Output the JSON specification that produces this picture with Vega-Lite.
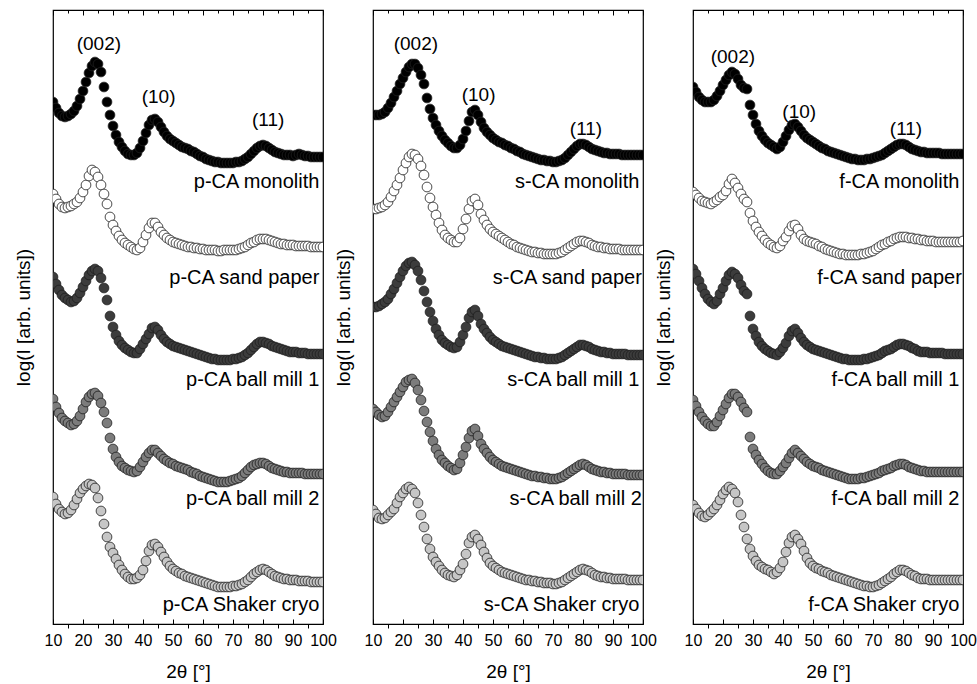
{
"$schema":"https://vega.github.io/schema/vega-lite/v6.json",
"padding":{"left":13,"top":8,"right":5,"bottom":2},
"bounds":"flush",
"spacing":50,
"config":{"font":"Liberation Sans","view":{"stroke":"#000","strokeWidth":1.2},"axis":{"labelColor":"#000","titleColor":"#000","tickColor":"#000","titleFontWeight":"normal","grid":false,"domain":false}},
"datasets":{
"p":[
{"c":1,"x":10,"y":522},{"c":1,"x":11,"y":516},{"c":1,"x":12,"y":511},{"c":1,"x":13,"y":508},{"c":1,"x":14,"y":507},{"c":1,"x":15,"y":508},{"c":1,"x":16,"y":510},{"c":1,"x":17,"y":513},{"c":1,"x":18,"y":518},{"c":1,"x":19,"y":525},
{"c":1,"x":20,"y":533},{"c":1,"x":21,"y":542},{"c":1,"x":22,"y":551},{"c":1,"x":23,"y":558},{"c":1,"x":24,"y":562},{"c":1,"x":25,"y":560},{"c":1,"x":26,"y":552},{"c":1,"x":27,"y":537},{"c":1,"x":28,"y":522},{"c":1,"x":29,"y":509},
{"c":1,"x":30,"y":498},{"c":1,"x":31,"y":489},{"c":1,"x":32,"y":482},{"c":1,"x":33,"y":477},{"c":1,"x":34,"y":473},{"c":1,"x":35,"y":470},{"c":1,"x":36,"y":469},{"c":1,"x":37,"y":469},{"c":1,"x":38,"y":471},{"c":1,"x":39,"y":476},
{"c":1,"x":40,"y":483},{"c":1,"x":41,"y":491},{"c":1,"x":42,"y":499},{"c":1,"x":43,"y":504},{"c":1,"x":44,"y":505},{"c":1,"x":45,"y":502},{"c":1,"x":46,"y":497},{"c":1,"x":47,"y":492},{"c":1,"x":48,"y":488},{"c":1,"x":49,"y":485},
{"c":1,"x":50,"y":483},{"c":1,"x":51,"y":481},{"c":1,"x":52,"y":479},{"c":1,"x":53,"y":477},{"c":1,"x":54,"y":476},{"c":1,"x":55,"y":475},{"c":1,"x":56,"y":473},{"c":1,"x":57,"y":472},{"c":1,"x":58,"y":470},{"c":1,"x":59,"y":468},
{"c":1,"x":60,"y":467},{"c":1,"x":61,"y":465},{"c":1,"x":62,"y":464},{"c":1,"x":63,"y":463},{"c":1,"x":64,"y":462},{"c":1,"x":65,"y":462},{"c":1,"x":66,"y":461},{"c":1,"x":67,"y":461},{"c":1,"x":68,"y":461},{"c":1,"x":69,"y":461},
{"c":1,"x":70,"y":461},{"c":1,"x":71,"y":462},{"c":1,"x":72,"y":462},{"c":1,"x":73,"y":463},{"c":1,"x":74,"y":465},{"c":1,"x":75,"y":467},{"c":1,"x":76,"y":470},{"c":1,"x":77,"y":473},{"c":1,"x":78,"y":476},{"c":1,"x":79,"y":478},
{"c":1,"x":80,"y":479},{"c":1,"x":81,"y":478},{"c":1,"x":82,"y":476},{"c":1,"x":83,"y":474},{"c":1,"x":84,"y":472},{"c":1,"x":85,"y":471},{"c":1,"x":86,"y":470},{"c":1,"x":87,"y":469},{"c":1,"x":88,"y":469},{"c":1,"x":89,"y":469},
{"c":1,"x":90,"y":468},{"c":1,"x":91,"y":469},{"c":1,"x":92,"y":470},{"c":1,"x":93,"y":469},{"c":1,"x":94,"y":468},{"c":1,"x":95,"y":468},{"c":1,"x":96,"y":467},{"c":1,"x":97,"y":467},{"c":1,"x":98,"y":467},{"c":1,"x":99,"y":467},{"c":1,"x":100,"y":467},
{"c":2,"x":10,"y":430},{"c":2,"x":11,"y":425},{"c":2,"x":12,"y":420},{"c":2,"x":13,"y":417},{"c":2,"x":14,"y":416},{"c":2,"x":15,"y":417},{"c":2,"x":16,"y":418},{"c":2,"x":17,"y":420},{"c":2,"x":18,"y":422},{"c":2,"x":19,"y":426},
{"c":2,"x":20,"y":432},{"c":2,"x":21,"y":439},{"c":2,"x":22,"y":448},{"c":2,"x":23,"y":454},{"c":2,"x":24,"y":452},{"c":2,"x":25,"y":447},{"c":2,"x":26,"y":439},{"c":2,"x":27,"y":430},{"c":2,"x":28,"y":420},{"c":2,"x":29,"y":407},
{"c":2,"x":30,"y":399},{"c":2,"x":31,"y":393},{"c":2,"x":32,"y":388},{"c":2,"x":33,"y":384},{"c":2,"x":34,"y":381},{"c":2,"x":35,"y":379},{"c":2,"x":36,"y":377},{"c":2,"x":37,"y":375},{"c":2,"x":38,"y":374},{"c":2,"x":39,"y":376},
{"c":2,"x":40,"y":382},{"c":2,"x":41,"y":389},{"c":2,"x":42,"y":396},{"c":2,"x":43,"y":401},{"c":2,"x":44,"y":401},{"c":2,"x":45,"y":397},{"c":2,"x":46,"y":392},{"c":2,"x":47,"y":389},{"c":2,"x":48,"y":386},{"c":2,"x":49,"y":384},
{"c":2,"x":50,"y":382},{"c":2,"x":51,"y":381},{"c":2,"x":52,"y":380},{"c":2,"x":53,"y":379},{"c":2,"x":54,"y":378},{"c":2,"x":55,"y":377},{"c":2,"x":56,"y":377},{"c":2,"x":57,"y":376},{"c":2,"x":58,"y":376},{"c":2,"x":59,"y":375},
{"c":2,"x":60,"y":375},{"c":2,"x":61,"y":374},{"c":2,"x":62,"y":374},{"c":2,"x":63,"y":374},{"c":2,"x":64,"y":374},{"c":2,"x":65,"y":373},{"c":2,"x":66,"y":373},{"c":2,"x":67,"y":374},{"c":2,"x":68,"y":374},{"c":2,"x":69,"y":374},
{"c":2,"x":70,"y":374},{"c":2,"x":71,"y":374},{"c":2,"x":72,"y":375},{"c":2,"x":73,"y":376},{"c":2,"x":74,"y":377},{"c":2,"x":75,"y":379},{"c":2,"x":76,"y":381},{"c":2,"x":77,"y":382},{"c":2,"x":78,"y":384},{"c":2,"x":79,"y":385},
{"c":2,"x":80,"y":385},{"c":2,"x":81,"y":385},{"c":2,"x":82,"y":384},{"c":2,"x":83,"y":383},{"c":2,"x":84,"y":382},{"c":2,"x":85,"y":381},{"c":2,"x":86,"y":380},{"c":2,"x":87,"y":380},{"c":2,"x":88,"y":379},{"c":2,"x":89,"y":379},
{"c":2,"x":90,"y":379},{"c":2,"x":91,"y":378},{"c":2,"x":92,"y":378},{"c":2,"x":93,"y":378},{"c":2,"x":94,"y":378},{"c":2,"x":95,"y":378},{"c":2,"x":96,"y":377},{"c":2,"x":97,"y":377},{"c":2,"x":98,"y":377},{"c":2,"x":99,"y":377},{"c":2,"x":100,"y":377},
{"c":3,"x":10,"y":347},{"c":3,"x":11,"y":340},{"c":3,"x":12,"y":334},{"c":3,"x":13,"y":329},{"c":3,"x":14,"y":326},{"c":3,"x":15,"y":324},{"c":3,"x":16,"y":322},{"c":3,"x":17,"y":323},{"c":3,"x":18,"y":326},{"c":3,"x":19,"y":331},
{"c":3,"x":20,"y":337},{"c":3,"x":21,"y":343},{"c":3,"x":22,"y":349},{"c":3,"x":23,"y":353},{"c":3,"x":24,"y":355},{"c":3,"x":25,"y":353},{"c":3,"x":26,"y":346},{"c":3,"x":27,"y":336},{"c":3,"x":28,"y":324},{"c":3,"x":29,"y":308},
{"c":3,"x":30,"y":297},{"c":3,"x":31,"y":289},{"c":3,"x":32,"y":283},{"c":3,"x":33,"y":279},{"c":3,"x":34,"y":276},{"c":3,"x":35,"y":274},{"c":3,"x":36,"y":272},{"c":3,"x":37,"y":271},{"c":3,"x":38,"y":271},{"c":3,"x":39,"y":275},
{"c":3,"x":40,"y":280},{"c":3,"x":41,"y":285},{"c":3,"x":42,"y":290},{"c":3,"x":43,"y":296},{"c":3,"x":44,"y":297},{"c":3,"x":45,"y":294},{"c":3,"x":46,"y":289},{"c":3,"x":47,"y":285},{"c":3,"x":48,"y":282},{"c":3,"x":49,"y":280},
{"c":3,"x":50,"y":278},{"c":3,"x":51,"y":277},{"c":3,"x":52,"y":276},{"c":3,"x":53,"y":275},{"c":3,"x":54,"y":274},{"c":3,"x":55,"y":273},{"c":3,"x":56,"y":272},{"c":3,"x":57,"y":271},{"c":3,"x":58,"y":270},{"c":3,"x":59,"y":269},
{"c":3,"x":60,"y":268},{"c":3,"x":61,"y":267},{"c":3,"x":62,"y":266},{"c":3,"x":63,"y":265},{"c":3,"x":64,"y":265},{"c":3,"x":65,"y":264},{"c":3,"x":66,"y":264},{"c":3,"x":67,"y":264},{"c":3,"x":68,"y":264},{"c":3,"x":69,"y":264},
{"c":3,"x":70,"y":265},{"c":3,"x":71,"y":265},{"c":3,"x":72,"y":266},{"c":3,"x":73,"y":267},{"c":3,"x":74,"y":269},{"c":3,"x":75,"y":271},{"c":3,"x":76,"y":274},{"c":3,"x":77,"y":277},{"c":3,"x":78,"y":280},{"c":3,"x":79,"y":282},
{"c":3,"x":80,"y":282},{"c":3,"x":81,"y":281},{"c":3,"x":82,"y":280},{"c":3,"x":83,"y":278},{"c":3,"x":84,"y":277},{"c":3,"x":85,"y":276},{"c":3,"x":86,"y":275},{"c":3,"x":87,"y":274},{"c":3,"x":88,"y":273},{"c":3,"x":89,"y":272},
{"c":3,"x":90,"y":272},{"c":3,"x":91,"y":272},{"c":3,"x":92,"y":271},{"c":3,"x":93,"y":271},{"c":3,"x":94,"y":271},{"c":3,"x":95,"y":270},{"c":3,"x":96,"y":270},{"c":3,"x":97,"y":270},{"c":3,"x":98,"y":270},{"c":3,"x":99,"y":270},{"c":3,"x":100,"y":270},
{"c":4,"x":10,"y":225},{"c":4,"x":11,"y":217},{"c":4,"x":12,"y":211},{"c":4,"x":13,"y":206},{"c":4,"x":14,"y":203},{"c":4,"x":15,"y":201},{"c":4,"x":16,"y":199},{"c":4,"x":17,"y":200},{"c":4,"x":18,"y":203},{"c":4,"x":19,"y":208},
{"c":4,"x":20,"y":215},{"c":4,"x":21,"y":222},{"c":4,"x":22,"y":227},{"c":4,"x":23,"y":230},{"c":4,"x":24,"y":231},{"c":4,"x":25,"y":228},{"c":4,"x":26,"y":221},{"c":4,"x":27,"y":212},{"c":4,"x":28,"y":201},{"c":4,"x":29,"y":186},
{"c":4,"x":30,"y":175},{"c":4,"x":31,"y":167},{"c":4,"x":32,"y":162},{"c":4,"x":33,"y":158},{"c":4,"x":34,"y":156},{"c":4,"x":35,"y":154},{"c":4,"x":36,"y":153},{"c":4,"x":37,"y":152},{"c":4,"x":38,"y":153},{"c":4,"x":39,"y":157},
{"c":4,"x":40,"y":162},{"c":4,"x":41,"y":167},{"c":4,"x":42,"y":171},{"c":4,"x":43,"y":174},{"c":4,"x":44,"y":174},{"c":4,"x":45,"y":171},{"c":4,"x":46,"y":168},{"c":4,"x":47,"y":165},{"c":4,"x":48,"y":163},{"c":4,"x":49,"y":161},
{"c":4,"x":50,"y":160},{"c":4,"x":51,"y":158},{"c":4,"x":52,"y":157},{"c":4,"x":53,"y":156},{"c":4,"x":54,"y":155},{"c":4,"x":55,"y":154},{"c":4,"x":56,"y":152},{"c":4,"x":57,"y":151},{"c":4,"x":58,"y":150},{"c":4,"x":59,"y":148},
{"c":4,"x":60,"y":147},{"c":4,"x":61,"y":146},{"c":4,"x":62,"y":145},{"c":4,"x":63,"y":144},{"c":4,"x":64,"y":143},{"c":4,"x":65,"y":142},{"c":4,"x":66,"y":142},{"c":4,"x":67,"y":142},{"c":4,"x":68,"y":142},{"c":4,"x":69,"y":143},
{"c":4,"x":70,"y":144},{"c":4,"x":71,"y":145},{"c":4,"x":72,"y":146},{"c":4,"x":73,"y":148},{"c":4,"x":74,"y":151},{"c":4,"x":75,"y":154},{"c":4,"x":76,"y":157},{"c":4,"x":77,"y":159},{"c":4,"x":78,"y":160},{"c":4,"x":79,"y":161},
{"c":4,"x":80,"y":161},{"c":4,"x":81,"y":160},{"c":4,"x":82,"y":158},{"c":4,"x":83,"y":156},{"c":4,"x":84,"y":155},{"c":4,"x":85,"y":154},{"c":4,"x":86,"y":153},{"c":4,"x":87,"y":152},{"c":4,"x":88,"y":152},{"c":4,"x":89,"y":151},
{"c":4,"x":90,"y":151},{"c":4,"x":91,"y":151},{"c":4,"x":92,"y":151},{"c":4,"x":93,"y":151},{"c":4,"x":94,"y":150},{"c":4,"x":95,"y":150},{"c":4,"x":96,"y":150},{"c":4,"x":97,"y":150},{"c":4,"x":98,"y":150},{"c":4,"x":99,"y":150},{"c":4,"x":100,"y":150},
{"c":5,"x":10,"y":127},{"c":5,"x":11,"y":120},{"c":5,"x":12,"y":115},{"c":5,"x":13,"y":112},{"c":5,"x":14,"y":110},{"c":5,"x":15,"y":111},{"c":5,"x":16,"y":114},{"c":5,"x":17,"y":119},{"c":5,"x":18,"y":125},{"c":5,"x":19,"y":131},
{"c":5,"x":20,"y":135},{"c":5,"x":21,"y":138},{"c":5,"x":22,"y":140},{"c":5,"x":23,"y":139},{"c":5,"x":24,"y":136},{"c":5,"x":25,"y":126},{"c":5,"x":26,"y":113},{"c":5,"x":27,"y":100},{"c":5,"x":28,"y":87},{"c":5,"x":29,"y":77},
{"c":5,"x":30,"y":71},{"c":5,"x":31,"y":65},{"c":5,"x":32,"y":59},{"c":5,"x":33,"y":54},{"c":5,"x":34,"y":50},{"c":5,"x":35,"y":47},{"c":5,"x":36,"y":45},{"c":5,"x":37,"y":45},{"c":5,"x":38,"y":46},{"c":5,"x":39,"y":49},
{"c":5,"x":40,"y":54},{"c":5,"x":41,"y":63},{"c":5,"x":42,"y":73},{"c":5,"x":43,"y":79},{"c":5,"x":44,"y":80},{"c":5,"x":45,"y":77},{"c":5,"x":46,"y":72},{"c":5,"x":47,"y":67},{"c":5,"x":48,"y":62},{"c":5,"x":49,"y":58},
{"c":5,"x":50,"y":55},{"c":5,"x":51,"y":53},{"c":5,"x":52,"y":51},{"c":5,"x":53,"y":50},{"c":5,"x":54,"y":48},{"c":5,"x":55,"y":47},{"c":5,"x":56,"y":46},{"c":5,"x":57,"y":45},{"c":5,"x":58,"y":44},{"c":5,"x":59,"y":43},
{"c":5,"x":60,"y":42},{"c":5,"x":61,"y":41},{"c":5,"x":62,"y":40},{"c":5,"x":63,"y":39},{"c":5,"x":64,"y":38},{"c":5,"x":65,"y":37},{"c":5,"x":66,"y":37},{"c":5,"x":67,"y":37},{"c":5,"x":68,"y":37},{"c":5,"x":69,"y":37},
{"c":5,"x":70,"y":38},{"c":5,"x":71,"y":38},{"c":5,"x":72,"y":39},{"c":5,"x":73,"y":40},{"c":5,"x":74,"y":42},{"c":5,"x":75,"y":44},{"c":5,"x":76,"y":47},{"c":5,"x":77,"y":50},{"c":5,"x":78,"y":52},{"c":5,"x":79,"y":54},
{"c":5,"x":80,"y":55},{"c":5,"x":81,"y":54},{"c":5,"x":82,"y":52},{"c":5,"x":83,"y":50},{"c":5,"x":84,"y":48},{"c":5,"x":85,"y":47},{"c":5,"x":86,"y":46},{"c":5,"x":87,"y":45},{"c":5,"x":88,"y":45},{"c":5,"x":89,"y":44},
{"c":5,"x":90,"y":44},{"c":5,"x":91,"y":44},{"c":5,"x":92,"y":43},{"c":5,"x":93,"y":43},{"c":5,"x":94,"y":43},{"c":5,"x":95,"y":43},{"c":5,"x":96,"y":42},{"c":5,"x":97,"y":42},{"c":5,"x":98,"y":42},{"c":5,"x":99,"y":42},{"c":5,"x":100,"y":42}
],
"s":[
{"c":1,"x":10,"y":509},{"c":1,"x":11,"y":509},{"c":1,"x":12,"y":509},{"c":1,"x":13,"y":510},{"c":1,"x":14,"y":512},{"c":1,"x":15,"y":516},{"c":1,"x":16,"y":521},{"c":1,"x":17,"y":527},{"c":1,"x":18,"y":533},{"c":1,"x":19,"y":540},
{"c":1,"x":20,"y":546},{"c":1,"x":21,"y":552},{"c":1,"x":22,"y":557},{"c":1,"x":23,"y":560},{"c":1,"x":24,"y":560},{"c":1,"x":25,"y":556},{"c":1,"x":26,"y":549},{"c":1,"x":27,"y":540},{"c":1,"x":28,"y":526},{"c":1,"x":29,"y":515},
{"c":1,"x":30,"y":506},{"c":1,"x":31,"y":499},{"c":1,"x":32,"y":493},{"c":1,"x":33,"y":488},{"c":1,"x":34,"y":484},{"c":1,"x":35,"y":481},{"c":1,"x":36,"y":478},{"c":1,"x":37,"y":476},{"c":1,"x":38,"y":476},{"c":1,"x":39,"y":479},
{"c":1,"x":40,"y":485},{"c":1,"x":41,"y":493},{"c":1,"x":42,"y":503},{"c":1,"x":43,"y":512},{"c":1,"x":44,"y":514},{"c":1,"x":45,"y":509},{"c":1,"x":46,"y":502},{"c":1,"x":47,"y":496},{"c":1,"x":48,"y":492},{"c":1,"x":49,"y":489},
{"c":1,"x":50,"y":486},{"c":1,"x":51,"y":484},{"c":1,"x":52,"y":482},{"c":1,"x":53,"y":481},{"c":1,"x":54,"y":479},{"c":1,"x":55,"y":478},{"c":1,"x":56,"y":476},{"c":1,"x":57,"y":475},{"c":1,"x":58,"y":473},{"c":1,"x":59,"y":472},
{"c":1,"x":60,"y":470},{"c":1,"x":61,"y":469},{"c":1,"x":62,"y":468},{"c":1,"x":63,"y":467},{"c":1,"x":64,"y":466},{"c":1,"x":65,"y":465},{"c":1,"x":66,"y":464},{"c":1,"x":67,"y":464},{"c":1,"x":68,"y":463},{"c":1,"x":69,"y":463},
{"c":1,"x":70,"y":462},{"c":1,"x":71,"y":462},{"c":1,"x":72,"y":463},{"c":1,"x":73,"y":464},{"c":1,"x":74,"y":466},{"c":1,"x":75,"y":469},{"c":1,"x":76,"y":472},{"c":1,"x":77,"y":475},{"c":1,"x":78,"y":478},{"c":1,"x":79,"y":480},
{"c":1,"x":80,"y":480},{"c":1,"x":81,"y":479},{"c":1,"x":82,"y":477},{"c":1,"x":83,"y":475},{"c":1,"x":84,"y":474},{"c":1,"x":85,"y":473},{"c":1,"x":86,"y":472},{"c":1,"x":87,"y":471},{"c":1,"x":88,"y":471},{"c":1,"x":89,"y":470},
{"c":1,"x":90,"y":470},{"c":1,"x":91,"y":470},{"c":1,"x":92,"y":470},{"c":1,"x":93,"y":469},{"c":1,"x":94,"y":469},{"c":1,"x":95,"y":469},{"c":1,"x":96,"y":469},{"c":1,"x":97,"y":469},{"c":1,"x":98,"y":469},{"c":1,"x":99,"y":469},{"c":1,"x":100,"y":469},
{"c":2,"x":10,"y":415},{"c":2,"x":11,"y":415},{"c":2,"x":12,"y":416},{"c":2,"x":13,"y":417},{"c":2,"x":14,"y":419},{"c":2,"x":15,"y":422},{"c":2,"x":16,"y":427},{"c":2,"x":17,"y":433},{"c":2,"x":18,"y":439},{"c":2,"x":19,"y":446},
{"c":2,"x":20,"y":454},{"c":2,"x":21,"y":461},{"c":2,"x":22,"y":467},{"c":2,"x":23,"y":470},{"c":2,"x":24,"y":469},{"c":2,"x":25,"y":465},{"c":2,"x":26,"y":458},{"c":2,"x":27,"y":449},{"c":2,"x":28,"y":437},{"c":2,"x":29,"y":426},
{"c":2,"x":30,"y":417},{"c":2,"x":31,"y":409},{"c":2,"x":32,"y":401},{"c":2,"x":33,"y":394},{"c":2,"x":34,"y":389},{"c":2,"x":35,"y":386},{"c":2,"x":36,"y":384},{"c":2,"x":37,"y":382},{"c":2,"x":38,"y":382},{"c":2,"x":39,"y":386},
{"c":2,"x":40,"y":395},{"c":2,"x":41,"y":405},{"c":2,"x":42,"y":415},{"c":2,"x":43,"y":423},{"c":2,"x":44,"y":425},{"c":2,"x":45,"y":419},{"c":2,"x":46,"y":410},{"c":2,"x":47,"y":404},{"c":2,"x":48,"y":399},{"c":2,"x":49,"y":395},
{"c":2,"x":50,"y":392},{"c":2,"x":51,"y":390},{"c":2,"x":52,"y":388},{"c":2,"x":53,"y":386},{"c":2,"x":54,"y":384},{"c":2,"x":55,"y":382},{"c":2,"x":56,"y":380},{"c":2,"x":57,"y":379},{"c":2,"x":58,"y":377},{"c":2,"x":59,"y":376},
{"c":2,"x":60,"y":375},{"c":2,"x":61,"y":374},{"c":2,"x":62,"y":373},{"c":2,"x":63,"y":372},{"c":2,"x":64,"y":372},{"c":2,"x":65,"y":371},{"c":2,"x":66,"y":371},{"c":2,"x":67,"y":370},{"c":2,"x":68,"y":370},{"c":2,"x":69,"y":370},
{"c":2,"x":70,"y":370},{"c":2,"x":71,"y":370},{"c":2,"x":72,"y":371},{"c":2,"x":73,"y":372},{"c":2,"x":74,"y":374},{"c":2,"x":75,"y":376},{"c":2,"x":76,"y":378},{"c":2,"x":77,"y":380},{"c":2,"x":78,"y":382},{"c":2,"x":79,"y":383},
{"c":2,"x":80,"y":383},{"c":2,"x":81,"y":382},{"c":2,"x":82,"y":381},{"c":2,"x":83,"y":379},{"c":2,"x":84,"y":378},{"c":2,"x":85,"y":377},{"c":2,"x":86,"y":377},{"c":2,"x":87,"y":376},{"c":2,"x":88,"y":376},{"c":2,"x":89,"y":375},
{"c":2,"x":90,"y":375},{"c":2,"x":91,"y":375},{"c":2,"x":92,"y":375},{"c":2,"x":93,"y":374},{"c":2,"x":94,"y":374},{"c":2,"x":95,"y":374},{"c":2,"x":96,"y":374},{"c":2,"x":97,"y":374},{"c":2,"x":98,"y":374},{"c":2,"x":99,"y":374},{"c":2,"x":100,"y":374},
{"c":3,"x":10,"y":317},{"c":3,"x":11,"y":317},{"c":3,"x":12,"y":318},{"c":3,"x":13,"y":320},{"c":3,"x":14,"y":322},{"c":3,"x":15,"y":325},{"c":3,"x":16,"y":330},{"c":3,"x":17,"y":335},{"c":3,"x":18,"y":341},{"c":3,"x":19,"y":347},
{"c":3,"x":20,"y":353},{"c":3,"x":21,"y":358},{"c":3,"x":22,"y":361},{"c":3,"x":23,"y":362},{"c":3,"x":24,"y":359},{"c":3,"x":25,"y":353},{"c":3,"x":26,"y":344},{"c":3,"x":27,"y":333},{"c":3,"x":28,"y":322},{"c":3,"x":29,"y":312},
{"c":3,"x":30,"y":303},{"c":3,"x":31,"y":295},{"c":3,"x":32,"y":289},{"c":3,"x":33,"y":284},{"c":3,"x":34,"y":281},{"c":3,"x":35,"y":279},{"c":3,"x":36,"y":277},{"c":3,"x":37,"y":276},{"c":3,"x":38,"y":277},{"c":3,"x":39,"y":282},
{"c":3,"x":40,"y":289},{"c":3,"x":41,"y":297},{"c":3,"x":42,"y":306},{"c":3,"x":43,"y":312},{"c":3,"x":44,"y":314},{"c":3,"x":45,"y":308},{"c":3,"x":46,"y":300},{"c":3,"x":47,"y":295},{"c":3,"x":48,"y":291},{"c":3,"x":49,"y":287},
{"c":3,"x":50,"y":284},{"c":3,"x":51,"y":282},{"c":3,"x":52,"y":280},{"c":3,"x":53,"y":278},{"c":3,"x":54,"y":277},{"c":3,"x":55,"y":276},{"c":3,"x":56,"y":275},{"c":3,"x":57,"y":274},{"c":3,"x":58,"y":273},{"c":3,"x":59,"y":272},
{"c":3,"x":60,"y":271},{"c":3,"x":61,"y":270},{"c":3,"x":62,"y":269},{"c":3,"x":63,"y":268},{"c":3,"x":64,"y":267},{"c":3,"x":65,"y":267},{"c":3,"x":66,"y":266},{"c":3,"x":67,"y":266},{"c":3,"x":68,"y":265},{"c":3,"x":69,"y":265},
{"c":3,"x":70,"y":265},{"c":3,"x":71,"y":265},{"c":3,"x":72,"y":266},{"c":3,"x":73,"y":267},{"c":3,"x":74,"y":269},{"c":3,"x":75,"y":271},{"c":3,"x":76,"y":273},{"c":3,"x":77,"y":275},{"c":3,"x":78,"y":277},{"c":3,"x":79,"y":279},
{"c":3,"x":80,"y":279},{"c":3,"x":81,"y":278},{"c":3,"x":82,"y":277},{"c":3,"x":83,"y":275},{"c":3,"x":84,"y":274},{"c":3,"x":85,"y":273},{"c":3,"x":86,"y":272},{"c":3,"x":87,"y":272},{"c":3,"x":88,"y":271},{"c":3,"x":89,"y":271},
{"c":3,"x":90,"y":270},{"c":3,"x":91,"y":270},{"c":3,"x":92,"y":270},{"c":3,"x":93,"y":270},{"c":3,"x":94,"y":270},{"c":3,"x":95,"y":269},{"c":3,"x":96,"y":269},{"c":3,"x":97,"y":269},{"c":3,"x":98,"y":269},{"c":3,"x":99,"y":269},{"c":3,"x":100,"y":269},
{"c":4,"x":10,"y":215},{"c":4,"x":11,"y":212},{"c":4,"x":12,"y":209},{"c":4,"x":13,"y":207},{"c":4,"x":14,"y":208},{"c":4,"x":15,"y":212},{"c":4,"x":16,"y":217},{"c":4,"x":17,"y":222},{"c":4,"x":18,"y":227},{"c":4,"x":19,"y":232},
{"c":4,"x":20,"y":237},{"c":4,"x":21,"y":242},{"c":4,"x":22,"y":244},{"c":4,"x":23,"y":245},{"c":4,"x":24,"y":241},{"c":4,"x":25,"y":234},{"c":4,"x":26,"y":224},{"c":4,"x":27,"y":213},{"c":4,"x":28,"y":202},{"c":4,"x":29,"y":192},
{"c":4,"x":30,"y":183},{"c":4,"x":31,"y":175},{"c":4,"x":32,"y":169},{"c":4,"x":33,"y":164},{"c":4,"x":34,"y":161},{"c":4,"x":35,"y":158},{"c":4,"x":36,"y":156},{"c":4,"x":37,"y":154},{"c":4,"x":38,"y":155},{"c":4,"x":39,"y":161},
{"c":4,"x":40,"y":169},{"c":4,"x":41,"y":177},{"c":4,"x":42,"y":186},{"c":4,"x":43,"y":193},{"c":4,"x":44,"y":195},{"c":4,"x":45,"y":188},{"c":4,"x":46,"y":180},{"c":4,"x":47,"y":175},{"c":4,"x":48,"y":171},{"c":4,"x":49,"y":167},
{"c":4,"x":50,"y":164},{"c":4,"x":51,"y":162},{"c":4,"x":52,"y":160},{"c":4,"x":53,"y":158},{"c":4,"x":54,"y":157},{"c":4,"x":55,"y":156},{"c":4,"x":56,"y":155},{"c":4,"x":57,"y":154},{"c":4,"x":58,"y":153},{"c":4,"x":59,"y":152},
{"c":4,"x":60,"y":151},{"c":4,"x":61,"y":150},{"c":4,"x":62,"y":149},{"c":4,"x":63,"y":148},{"c":4,"x":64,"y":148},{"c":4,"x":65,"y":147},{"c":4,"x":66,"y":147},{"c":4,"x":67,"y":146},{"c":4,"x":68,"y":146},{"c":4,"x":69,"y":145},
{"c":4,"x":70,"y":145},{"c":4,"x":71,"y":145},{"c":4,"x":72,"y":146},{"c":4,"x":73,"y":147},{"c":4,"x":74,"y":149},{"c":4,"x":75,"y":151},{"c":4,"x":76,"y":153},{"c":4,"x":77,"y":155},{"c":4,"x":78,"y":157},{"c":4,"x":79,"y":159},
{"c":4,"x":80,"y":160},{"c":4,"x":81,"y":159},{"c":4,"x":82,"y":157},{"c":4,"x":83,"y":155},{"c":4,"x":84,"y":154},{"c":4,"x":85,"y":153},{"c":4,"x":86,"y":152},{"c":4,"x":87,"y":152},{"c":4,"x":88,"y":151},{"c":4,"x":89,"y":151},
{"c":4,"x":90,"y":150},{"c":4,"x":91,"y":150},{"c":4,"x":92,"y":150},{"c":4,"x":93,"y":150},{"c":4,"x":94,"y":150},{"c":4,"x":95,"y":149},{"c":4,"x":96,"y":149},{"c":4,"x":97,"y":149},{"c":4,"x":98,"y":149},{"c":4,"x":99,"y":149},{"c":4,"x":100,"y":149},
{"c":5,"x":10,"y":114},{"c":5,"x":11,"y":110},{"c":5,"x":12,"y":106},{"c":5,"x":13,"y":105},{"c":5,"x":14,"y":106},{"c":5,"x":15,"y":109},{"c":5,"x":16,"y":112},{"c":5,"x":17,"y":115},{"c":5,"x":18,"y":121},{"c":5,"x":19,"y":127},
{"c":5,"x":20,"y":131},{"c":5,"x":21,"y":135},{"c":5,"x":22,"y":137},{"c":5,"x":23,"y":135},{"c":5,"x":24,"y":131},{"c":5,"x":25,"y":121},{"c":5,"x":26,"y":109},{"c":5,"x":27,"y":97},{"c":5,"x":28,"y":85},{"c":5,"x":29,"y":75},
{"c":5,"x":30,"y":67},{"c":5,"x":31,"y":62},{"c":5,"x":32,"y":58},{"c":5,"x":33,"y":54},{"c":5,"x":34,"y":51},{"c":5,"x":35,"y":49},{"c":5,"x":36,"y":48},{"c":5,"x":37,"y":47},{"c":5,"x":38,"y":49},{"c":5,"x":39,"y":54},
{"c":5,"x":40,"y":60},{"c":5,"x":41,"y":70},{"c":5,"x":42,"y":81},{"c":5,"x":43,"y":87},{"c":5,"x":44,"y":89},{"c":5,"x":45,"y":85},{"c":5,"x":46,"y":79},{"c":5,"x":47,"y":72},{"c":5,"x":48,"y":66},{"c":5,"x":49,"y":61},
{"c":5,"x":50,"y":58},{"c":5,"x":51,"y":56},{"c":5,"x":52,"y":54},{"c":5,"x":53,"y":52},{"c":5,"x":54,"y":51},{"c":5,"x":55,"y":50},{"c":5,"x":56,"y":49},{"c":5,"x":57,"y":48},{"c":5,"x":58,"y":47},{"c":5,"x":59,"y":46},
{"c":5,"x":60,"y":45},{"c":5,"x":61,"y":44},{"c":5,"x":62,"y":44},{"c":5,"x":63,"y":43},{"c":5,"x":64,"y":43},{"c":5,"x":65,"y":42},{"c":5,"x":66,"y":42},{"c":5,"x":67,"y":41},{"c":5,"x":68,"y":41},{"c":5,"x":69,"y":41},
{"c":5,"x":70,"y":40},{"c":5,"x":71,"y":40},{"c":5,"x":72,"y":41},{"c":5,"x":73,"y":42},{"c":5,"x":74,"y":44},{"c":5,"x":75,"y":46},{"c":5,"x":76,"y":48},{"c":5,"x":77,"y":50},{"c":5,"x":78,"y":52},{"c":5,"x":79,"y":54},
{"c":5,"x":80,"y":55},{"c":5,"x":81,"y":54},{"c":5,"x":82,"y":53},{"c":5,"x":83,"y":51},{"c":5,"x":84,"y":49},{"c":5,"x":85,"y":48},{"c":5,"x":86,"y":47},{"c":5,"x":87,"y":47},{"c":5,"x":88,"y":46},{"c":5,"x":89,"y":46},
{"c":5,"x":90,"y":45},{"c":5,"x":91,"y":45},{"c":5,"x":92,"y":45},{"c":5,"x":93,"y":45},{"c":5,"x":94,"y":45},{"c":5,"x":95,"y":44},{"c":5,"x":96,"y":44},{"c":5,"x":97,"y":44},{"c":5,"x":98,"y":44},{"c":5,"x":99,"y":44},{"c":5,"x":100,"y":44}
],
"f":[
{"c":1,"x":10,"y":537},{"c":1,"x":11,"y":532},{"c":1,"x":12,"y":527},{"c":1,"x":13,"y":524},{"c":1,"x":14,"y":522},{"c":1,"x":15,"y":522},{"c":1,"x":16,"y":522},{"c":1,"x":17,"y":524},{"c":1,"x":18,"y":528},{"c":1,"x":19,"y":533},
{"c":1,"x":20,"y":539},{"c":1,"x":21,"y":544},{"c":1,"x":22,"y":549},{"c":1,"x":23,"y":552},{"c":1,"x":24,"y":550},{"c":1,"x":25,"y":545},{"c":1,"x":26,"y":539},{"c":1,"x":27,"y":536},{"c":1,"x":28,"y":535},{"c":1,"x":29,"y":519},
{"c":1,"x":30,"y":509},{"c":1,"x":31,"y":500},{"c":1,"x":32,"y":493},{"c":1,"x":33,"y":488},{"c":1,"x":34,"y":484},{"c":1,"x":35,"y":481},{"c":1,"x":36,"y":479},{"c":1,"x":37,"y":477},{"c":1,"x":38,"y":475},{"c":1,"x":39,"y":477},
{"c":1,"x":40,"y":482},{"c":1,"x":41,"y":488},{"c":1,"x":42,"y":494},{"c":1,"x":43,"y":499},{"c":1,"x":44,"y":500},{"c":1,"x":45,"y":497},{"c":1,"x":46,"y":493},{"c":1,"x":47,"y":489},{"c":1,"x":48,"y":486},{"c":1,"x":49,"y":484},
{"c":1,"x":50,"y":482},{"c":1,"x":51,"y":480},{"c":1,"x":52,"y":478},{"c":1,"x":53,"y":476},{"c":1,"x":54,"y":475},{"c":1,"x":55,"y":473},{"c":1,"x":56,"y":472},{"c":1,"x":57,"y":471},{"c":1,"x":58,"y":470},{"c":1,"x":59,"y":469},
{"c":1,"x":60,"y":468},{"c":1,"x":61,"y":467},{"c":1,"x":62,"y":466},{"c":1,"x":63,"y":465},{"c":1,"x":64,"y":465},{"c":1,"x":65,"y":464},{"c":1,"x":66,"y":464},{"c":1,"x":67,"y":464},{"c":1,"x":68,"y":465},{"c":1,"x":69,"y":465},
{"c":1,"x":70,"y":466},{"c":1,"x":71,"y":467},{"c":1,"x":72,"y":468},{"c":1,"x":73,"y":469},{"c":1,"x":74,"y":471},{"c":1,"x":75,"y":473},{"c":1,"x":76,"y":475},{"c":1,"x":77,"y":477},{"c":1,"x":78,"y":479},{"c":1,"x":79,"y":480},
{"c":1,"x":80,"y":480},{"c":1,"x":81,"y":479},{"c":1,"x":82,"y":477},{"c":1,"x":83,"y":475},{"c":1,"x":84,"y":474},{"c":1,"x":85,"y":473},{"c":1,"x":86,"y":472},{"c":1,"x":87,"y":472},{"c":1,"x":88,"y":471},{"c":1,"x":89,"y":471},
{"c":1,"x":90,"y":471},{"c":1,"x":91,"y":471},{"c":1,"x":92,"y":471},{"c":1,"x":93,"y":470},{"c":1,"x":94,"y":470},{"c":1,"x":95,"y":470},{"c":1,"x":96,"y":470},{"c":1,"x":97,"y":470},{"c":1,"x":98,"y":470},{"c":1,"x":99,"y":470},{"c":1,"x":100,"y":470},
{"c":2,"x":10,"y":432},{"c":2,"x":11,"y":429},{"c":2,"x":12,"y":426},{"c":2,"x":13,"y":423},{"c":2,"x":14,"y":422},{"c":2,"x":15,"y":421},{"c":2,"x":16,"y":420},{"c":2,"x":17,"y":422},{"c":2,"x":18,"y":424},{"c":2,"x":19,"y":427},
{"c":2,"x":20,"y":429},{"c":2,"x":21,"y":433},{"c":2,"x":22,"y":440},{"c":2,"x":23,"y":445},{"c":2,"x":24,"y":441},{"c":2,"x":25,"y":436},{"c":2,"x":26,"y":430},{"c":2,"x":27,"y":425},{"c":2,"x":28,"y":422},{"c":2,"x":29,"y":411},
{"c":2,"x":30,"y":403},{"c":2,"x":31,"y":397},{"c":2,"x":32,"y":392},{"c":2,"x":33,"y":388},{"c":2,"x":34,"y":384},{"c":2,"x":35,"y":381},{"c":2,"x":36,"y":379},{"c":2,"x":37,"y":377},{"c":2,"x":38,"y":376},{"c":2,"x":39,"y":378},
{"c":2,"x":40,"y":383},{"c":2,"x":41,"y":387},{"c":2,"x":42,"y":393},{"c":2,"x":43,"y":398},{"c":2,"x":44,"y":399},{"c":2,"x":45,"y":395},{"c":2,"x":46,"y":389},{"c":2,"x":47,"y":385},{"c":2,"x":48,"y":383},{"c":2,"x":49,"y":382},
{"c":2,"x":50,"y":381},{"c":2,"x":51,"y":380},{"c":2,"x":52,"y":378},{"c":2,"x":53,"y":377},{"c":2,"x":54,"y":375},{"c":2,"x":55,"y":374},{"c":2,"x":56,"y":373},{"c":2,"x":57,"y":372},{"c":2,"x":58,"y":371},{"c":2,"x":59,"y":370},
{"c":2,"x":60,"y":370},{"c":2,"x":61,"y":369},{"c":2,"x":62,"y":369},{"c":2,"x":63,"y":369},{"c":2,"x":64,"y":369},{"c":2,"x":65,"y":369},{"c":2,"x":66,"y":370},{"c":2,"x":67,"y":370},{"c":2,"x":68,"y":371},{"c":2,"x":69,"y":372},
{"c":2,"x":70,"y":373},{"c":2,"x":71,"y":375},{"c":2,"x":72,"y":377},{"c":2,"x":73,"y":379},{"c":2,"x":74,"y":380},{"c":2,"x":75,"y":382},{"c":2,"x":76,"y":383},{"c":2,"x":77,"y":385},{"c":2,"x":78,"y":386},{"c":2,"x":79,"y":387},
{"c":2,"x":80,"y":387},{"c":2,"x":81,"y":387},{"c":2,"x":82,"y":386},{"c":2,"x":83,"y":386},{"c":2,"x":84,"y":385},{"c":2,"x":85,"y":385},{"c":2,"x":86,"y":384},{"c":2,"x":87,"y":384},{"c":2,"x":88,"y":383},{"c":2,"x":89,"y":383},
{"c":2,"x":90,"y":383},{"c":2,"x":91,"y":382},{"c":2,"x":92,"y":382},{"c":2,"x":93,"y":382},{"c":2,"x":94,"y":382},{"c":2,"x":95,"y":382},{"c":2,"x":96,"y":382},{"c":2,"x":97,"y":382},{"c":2,"x":98,"y":382},{"c":2,"x":99,"y":382},{"c":2,"x":100,"y":383},
{"c":3,"x":10,"y":355},{"c":3,"x":11,"y":350},{"c":3,"x":12,"y":343},{"c":3,"x":13,"y":336},{"c":3,"x":14,"y":330},{"c":3,"x":15,"y":325},{"c":3,"x":16,"y":322},{"c":3,"x":17,"y":320},{"c":3,"x":18,"y":323},{"c":3,"x":19,"y":330},
{"c":3,"x":20,"y":336},{"c":3,"x":21,"y":343},{"c":3,"x":22,"y":349},{"c":3,"x":23,"y":352},{"c":3,"x":24,"y":350},{"c":3,"x":25,"y":346},{"c":3,"x":26,"y":339},{"c":3,"x":27,"y":333},{"c":3,"x":28,"y":330},{"c":3,"x":29,"y":308},
{"c":3,"x":30,"y":295},{"c":3,"x":31,"y":288},{"c":3,"x":32,"y":282},{"c":3,"x":33,"y":278},{"c":3,"x":34,"y":275},{"c":3,"x":35,"y":273},{"c":3,"x":36,"y":271},{"c":3,"x":37,"y":270},{"c":3,"x":38,"y":269},{"c":3,"x":39,"y":272},
{"c":3,"x":40,"y":276},{"c":3,"x":41,"y":281},{"c":3,"x":42,"y":288},{"c":3,"x":43,"y":293},{"c":3,"x":44,"y":295},{"c":3,"x":45,"y":291},{"c":3,"x":46,"y":286},{"c":3,"x":47,"y":282},{"c":3,"x":48,"y":279},{"c":3,"x":49,"y":277},
{"c":3,"x":50,"y":275},{"c":3,"x":51,"y":274},{"c":3,"x":52,"y":273},{"c":3,"x":53,"y":272},{"c":3,"x":54,"y":271},{"c":3,"x":55,"y":270},{"c":3,"x":56,"y":269},{"c":3,"x":57,"y":268},{"c":3,"x":58,"y":267},{"c":3,"x":59,"y":266},
{"c":3,"x":60,"y":265},{"c":3,"x":61,"y":265},{"c":3,"x":62,"y":264},{"c":3,"x":63,"y":264},{"c":3,"x":64,"y":264},{"c":3,"x":65,"y":264},{"c":3,"x":66,"y":264},{"c":3,"x":67,"y":265},{"c":3,"x":68,"y":265},{"c":3,"x":69,"y":266},
{"c":3,"x":70,"y":267},{"c":3,"x":71,"y":268},{"c":3,"x":72,"y":269},{"c":3,"x":73,"y":271},{"c":3,"x":74,"y":273},{"c":3,"x":75,"y":274},{"c":3,"x":76,"y":275},{"c":3,"x":77,"y":277},{"c":3,"x":78,"y":279},{"c":3,"x":79,"y":280},
{"c":3,"x":80,"y":280},{"c":3,"x":81,"y":279},{"c":3,"x":82,"y":278},{"c":3,"x":83,"y":276},{"c":3,"x":84,"y":275},{"c":3,"x":85,"y":273},{"c":3,"x":86,"y":272},{"c":3,"x":87,"y":272},{"c":3,"x":88,"y":272},{"c":3,"x":89,"y":271},
{"c":3,"x":90,"y":271},{"c":3,"x":91,"y":271},{"c":3,"x":92,"y":271},{"c":3,"x":93,"y":271},{"c":3,"x":94,"y":270},{"c":3,"x":95,"y":270},{"c":3,"x":96,"y":270},{"c":3,"x":97,"y":270},{"c":3,"x":98,"y":270},{"c":3,"x":99,"y":270},{"c":3,"x":100,"y":270},
{"c":4,"x":10,"y":224},{"c":4,"x":11,"y":218},{"c":4,"x":12,"y":212},{"c":4,"x":13,"y":207},{"c":4,"x":14,"y":203},{"c":4,"x":15,"y":200},{"c":4,"x":16,"y":198},{"c":4,"x":17,"y":198},{"c":4,"x":18,"y":202},{"c":4,"x":19,"y":208},
{"c":4,"x":20,"y":214},{"c":4,"x":21,"y":220},{"c":4,"x":22,"y":226},{"c":4,"x":23,"y":230},{"c":4,"x":24,"y":230},{"c":4,"x":25,"y":227},{"c":4,"x":26,"y":222},{"c":4,"x":27,"y":216},{"c":4,"x":28,"y":212},{"c":4,"x":29,"y":187},
{"c":4,"x":30,"y":175},{"c":4,"x":31,"y":169},{"c":4,"x":32,"y":164},{"c":4,"x":33,"y":160},{"c":4,"x":34,"y":156},{"c":4,"x":35,"y":153},{"c":4,"x":36,"y":151},{"c":4,"x":37,"y":150},{"c":4,"x":38,"y":150},{"c":4,"x":39,"y":153},
{"c":4,"x":40,"y":157},{"c":4,"x":41,"y":161},{"c":4,"x":42,"y":166},{"c":4,"x":43,"y":171},{"c":4,"x":44,"y":174},{"c":4,"x":45,"y":171},{"c":4,"x":46,"y":168},{"c":4,"x":47,"y":165},{"c":4,"x":48,"y":162},{"c":4,"x":49,"y":160},
{"c":4,"x":50,"y":158},{"c":4,"x":51,"y":157},{"c":4,"x":52,"y":156},{"c":4,"x":53,"y":154},{"c":4,"x":54,"y":153},{"c":4,"x":55,"y":152},{"c":4,"x":56,"y":151},{"c":4,"x":57,"y":150},{"c":4,"x":58,"y":149},{"c":4,"x":59,"y":148},
{"c":4,"x":60,"y":147},{"c":4,"x":61,"y":146},{"c":4,"x":62,"y":145},{"c":4,"x":63,"y":145},{"c":4,"x":64,"y":145},{"c":4,"x":65,"y":145},{"c":4,"x":66,"y":146},{"c":4,"x":67,"y":146},{"c":4,"x":68,"y":147},{"c":4,"x":69,"y":148},
{"c":4,"x":70,"y":149},{"c":4,"x":71,"y":150},{"c":4,"x":72,"y":151},{"c":4,"x":73,"y":153},{"c":4,"x":74,"y":154},{"c":4,"x":75,"y":155},{"c":4,"x":76,"y":156},{"c":4,"x":77,"y":158},{"c":4,"x":78,"y":159},{"c":4,"x":79,"y":160},
{"c":4,"x":80,"y":160},{"c":4,"x":81,"y":159},{"c":4,"x":82,"y":157},{"c":4,"x":83,"y":156},{"c":4,"x":84,"y":155},{"c":4,"x":85,"y":154},{"c":4,"x":86,"y":153},{"c":4,"x":87,"y":153},{"c":4,"x":88,"y":152},{"c":4,"x":89,"y":152},
{"c":4,"x":90,"y":152},{"c":4,"x":91,"y":152},{"c":4,"x":92,"y":152},{"c":4,"x":93,"y":152},{"c":4,"x":94,"y":152},{"c":4,"x":95,"y":152},{"c":4,"x":96,"y":152},{"c":4,"x":97,"y":152},{"c":4,"x":98,"y":152},{"c":4,"x":99,"y":152},{"c":4,"x":100,"y":152},
{"c":5,"x":10,"y":119},{"c":5,"x":11,"y":115},{"c":5,"x":12,"y":111},{"c":5,"x":13,"y":108},{"c":5,"x":14,"y":107},{"c":5,"x":15,"y":109},{"c":5,"x":16,"y":112},{"c":5,"x":17,"y":115},{"c":5,"x":18,"y":119},{"c":5,"x":19,"y":124},
{"c":5,"x":20,"y":130},{"c":5,"x":21,"y":134},{"c":5,"x":22,"y":137},{"c":5,"x":23,"y":135},{"c":5,"x":24,"y":131},{"c":5,"x":25,"y":122},{"c":5,"x":26,"y":109},{"c":5,"x":27,"y":97},{"c":5,"x":28,"y":85},{"c":5,"x":29,"y":75},
{"c":5,"x":30,"y":68},{"c":5,"x":31,"y":63},{"c":5,"x":32,"y":59},{"c":5,"x":33,"y":57},{"c":5,"x":34,"y":55},{"c":5,"x":35,"y":54},{"c":5,"x":36,"y":52},{"c":5,"x":37,"y":50},{"c":5,"x":38,"y":52},{"c":5,"x":39,"y":56},
{"c":5,"x":40,"y":62},{"c":5,"x":41,"y":72},{"c":5,"x":42,"y":81},{"c":5,"x":43,"y":87},{"c":5,"x":44,"y":89},{"c":5,"x":45,"y":85},{"c":5,"x":46,"y":80},{"c":5,"x":47,"y":73},{"c":5,"x":48,"y":66},{"c":5,"x":49,"y":61},
{"c":5,"x":50,"y":58},{"c":5,"x":51,"y":56},{"c":5,"x":52,"y":55},{"c":5,"x":53,"y":53},{"c":5,"x":54,"y":52},{"c":5,"x":55,"y":51},{"c":5,"x":56,"y":49},{"c":5,"x":57,"y":48},{"c":5,"x":58,"y":47},{"c":5,"x":59,"y":46},
{"c":5,"x":60,"y":45},{"c":5,"x":61,"y":44},{"c":5,"x":62,"y":43},{"c":5,"x":63,"y":42},{"c":5,"x":64,"y":41},{"c":5,"x":65,"y":40},{"c":5,"x":66,"y":39},{"c":5,"x":67,"y":38},{"c":5,"x":68,"y":38},{"c":5,"x":69,"y":37},
{"c":5,"x":70,"y":37},{"c":5,"x":71,"y":38},{"c":5,"x":72,"y":39},{"c":5,"x":73,"y":41},{"c":5,"x":74,"y":43},{"c":5,"x":75,"y":45},{"c":5,"x":76,"y":47},{"c":5,"x":77,"y":50},{"c":5,"x":78,"y":52},{"c":5,"x":79,"y":54},
{"c":5,"x":80,"y":54},{"c":5,"x":81,"y":53},{"c":5,"x":82,"y":51},{"c":5,"x":83,"y":49},{"c":5,"x":84,"y":48},{"c":5,"x":85,"y":46},{"c":5,"x":86,"y":45},{"c":5,"x":87,"y":45},{"c":5,"x":88,"y":45},{"c":5,"x":89,"y":44},
{"c":5,"x":90,"y":44},{"c":5,"x":91,"y":44},{"c":5,"x":92,"y":44},{"c":5,"x":93,"y":44},{"c":5,"x":94,"y":44},{"c":5,"x":95,"y":44},{"c":5,"x":96,"y":44},{"c":5,"x":97,"y":44},{"c":5,"x":98,"y":44},{"c":5,"x":99,"y":44},{"c":5,"x":100,"y":44}
],
"lab":[
{"s":"p","k":"peak","t":"(002)","x":25.3,"y":580},{"s":"p","k":"peak","t":"(10)","x":45.2,"y":527},{"s":"p","k":"peak","t":"(11)","x":81.7,"y":504},
{"s":"p","k":"name","t":"p-CA monolith","x":98.8,"y":442},{"s":"p","k":"name","t":"p-CA sand paper","x":98.8,"y":346},{"s":"p","k":"name","t":"p-CA ball mill 1","x":98.8,"y":244},{"s":"p","k":"name","t":"p-CA ball mill 2","x":98.8,"y":125},{"s":"p","k":"name","t":"p-CA Shaker cryo","x":98.8,"y":19},
{"s":"s","k":"peak","t":"(002)","x":24.3,"y":580},{"s":"s","k":"peak","t":"(10)","x":45.2,"y":529},{"s":"s","k":"peak","t":"(11)","x":81,"y":495},
{"s":"s","k":"name","t":"s-CA monolith","x":98.8,"y":442},{"s":"s","k":"name","t":"s-CA sand paper","x":99.6,"y":346},{"s":"s","k":"name","t":"s-CA ball mill 1","x":98.8,"y":244},{"s":"s","k":"name","t":"s-CA ball mill 2","x":99.6,"y":125},{"s":"s","k":"name","t":"s-CA Shaker cryo","x":98.8,"y":19},
{"s":"f","k":"peak","t":"(002)","x":23.3,"y":567},{"s":"f","k":"peak","t":"(10)","x":45.4,"y":512},{"s":"f","k":"peak","t":"(11)","x":81,"y":495},
{"s":"f","k":"name","t":"f-CA monolith","x":98.8,"y":442},{"s":"f","k":"name","t":"f-CA sand paper","x":99.6,"y":346},{"s":"f","k":"name","t":"f-CA ball mill 1","x":98.8,"y":244},{"s":"f","k":"name","t":"f-CA ball mill 2","x":98.8,"y":125},{"s":"f","k":"name","t":"f-CA Shaker cryo","x":98.8,"y":19}
]
},
"hconcat":[
{"width":270,"height":614,"resolve":{"axis":{"x":"independent"}},"layer":[
{"data":{"name":"p"},"mark":{"type":"circle","size":95,"opacity":1,"stroke":"#1e1e1e","strokeWidth":0.8,"clip":true},
"encoding":{"x":{"field":"x","type":"quantitative","scale":{"domain":[10,100],"nice":false,"zero":false},"axis":{"orient":"bottom","values":[10,15,20,25,30,35,40,45,50,55,60,65,70,75,80,85,90,95,100],"labelExpr":"datum.value % 10 === 0 ? datum.label : ''","tickSize":{"condition":{"test":"datum.value % 10 === 0","value":-5},"value":4},"labelPadding":13,"labelFontSize":16,"labelFlush":false,"labelOverlap":false,"title":"2θ [°]","titleFontSize":19,"titlePadding":5}},
"y":{"field":"y","type":"quantitative","scale":{"domain":[0,614],"nice":false,"zero":false},"axis":{"title":"log(I [arb. units])","labels":false,"ticks":false,"titleFontSize":19,"titlePadding":20}},
"fill":{"field":"c","type":"nominal","scale":{"domain":[1,2,3,4,5],"range":["#000000","#ffffff","#3c3c3c","#7c7c7c","#c6c6c6"]},"legend":null}}},
{"data":{"name":"lab"},"transform":[{"filter":"datum.s==='p' && datum.k==='peak'"}],"mark":{"type":"text","align":"center","baseline":"middle","fontSize":19,"color":"#000"},
"encoding":{"x":{"field":"x","type":"quantitative","axis":{"orient":"top","values":[10,15,20,25,30,35,40,45,50,55,60,65,70,75,80,85,90,95,100],"labels":false,"title":null,"tickSize":{"condition":{"test":"datum.value % 10 === 0","value":-5},"value":-3}}},"y":{"field":"y","type":"quantitative"},"text":{"field":"t"}}},
{"data":{"name":"lab"},"transform":[{"filter":"datum.s==='p' && datum.k==='name'"}],"mark":{"type":"text","align":"right","baseline":"middle","fontSize":20,"color":"#000"},
"encoding":{"x":{"field":"x","type":"quantitative","axis":null},"y":{"field":"y","type":"quantitative"},"text":{"field":"t"}}}
]},
{"width":270,"height":614,"resolve":{"axis":{"x":"independent"}},"layer":[
{"data":{"name":"s"},"mark":{"type":"circle","size":95,"opacity":1,"stroke":"#1e1e1e","strokeWidth":0.8,"clip":true},
"encoding":{"x":{"field":"x","type":"quantitative","scale":{"domain":[10,100],"nice":false,"zero":false},"axis":{"orient":"bottom","values":[10,15,20,25,30,35,40,45,50,55,60,65,70,75,80,85,90,95,100],"labelExpr":"datum.value % 10 === 0 ? datum.label : ''","tickSize":{"condition":{"test":"datum.value % 10 === 0","value":-5},"value":4},"labelPadding":13,"labelFontSize":16,"labelFlush":false,"labelOverlap":false,"title":"2θ [°]","titleFontSize":19,"titlePadding":5}},
"y":{"field":"y","type":"quantitative","scale":{"domain":[0,614],"nice":false,"zero":false},"axis":{"title":"log(I [arb. units])","labels":false,"ticks":false,"titleFontSize":19,"titlePadding":20}},
"fill":{"field":"c","type":"nominal","scale":{"domain":[1,2,3,4,5],"range":["#000000","#ffffff","#3c3c3c","#7c7c7c","#c6c6c6"]},"legend":null}}},
{"data":{"name":"lab"},"transform":[{"filter":"datum.s==='s' && datum.k==='peak'"}],"mark":{"type":"text","align":"center","baseline":"middle","fontSize":19,"color":"#000"},
"encoding":{"x":{"field":"x","type":"quantitative","axis":{"orient":"top","values":[10,15,20,25,30,35,40,45,50,55,60,65,70,75,80,85,90,95,100],"labels":false,"title":null,"tickSize":{"condition":{"test":"datum.value % 10 === 0","value":-5},"value":-3}}},"y":{"field":"y","type":"quantitative"},"text":{"field":"t"}}},
{"data":{"name":"lab"},"transform":[{"filter":"datum.s==='s' && datum.k==='name'"}],"mark":{"type":"text","align":"right","baseline":"middle","fontSize":20,"color":"#000"},
"encoding":{"x":{"field":"x","type":"quantitative","axis":null},"y":{"field":"y","type":"quantitative"},"text":{"field":"t"}}}
]},
{"width":270,"height":614,"resolve":{"axis":{"x":"independent"}},"layer":[
{"data":{"name":"f"},"mark":{"type":"circle","size":95,"opacity":1,"stroke":"#1e1e1e","strokeWidth":0.8,"clip":true},
"encoding":{"x":{"field":"x","type":"quantitative","scale":{"domain":[10,100],"nice":false,"zero":false},"axis":{"orient":"bottom","values":[10,15,20,25,30,35,40,45,50,55,60,65,70,75,80,85,90,95,100],"labelExpr":"datum.value % 10 === 0 ? datum.label : ''","tickSize":{"condition":{"test":"datum.value % 10 === 0","value":-5},"value":4},"labelPadding":13,"labelFontSize":16,"labelFlush":false,"labelOverlap":false,"title":"2θ [°]","titleFontSize":19,"titlePadding":5}},
"y":{"field":"y","type":"quantitative","scale":{"domain":[0,614],"nice":false,"zero":false},"axis":{"title":"log(I [arb. units])","labels":false,"ticks":false,"titleFontSize":19,"titlePadding":20}},
"fill":{"field":"c","type":"nominal","scale":{"domain":[1,2,3,4,5],"range":["#000000","#ffffff","#3c3c3c","#7c7c7c","#c6c6c6"]},"legend":null}}},
{"data":{"name":"lab"},"transform":[{"filter":"datum.s==='f' && datum.k==='peak'"}],"mark":{"type":"text","align":"center","baseline":"middle","fontSize":19,"color":"#000"},
"encoding":{"x":{"field":"x","type":"quantitative","axis":{"orient":"top","values":[10,15,20,25,30,35,40,45,50,55,60,65,70,75,80,85,90,95,100],"labels":false,"title":null,"tickSize":{"condition":{"test":"datum.value % 10 === 0","value":-5},"value":-3}}},"y":{"field":"y","type":"quantitative"},"text":{"field":"t"}}},
{"data":{"name":"lab"},"transform":[{"filter":"datum.s==='f' && datum.k==='name'"}],"mark":{"type":"text","align":"right","baseline":"middle","fontSize":20,"color":"#000"},
"encoding":{"x":{"field":"x","type":"quantitative","axis":null},"y":{"field":"y","type":"quantitative"},"text":{"field":"t"}}}
]}
]
}
